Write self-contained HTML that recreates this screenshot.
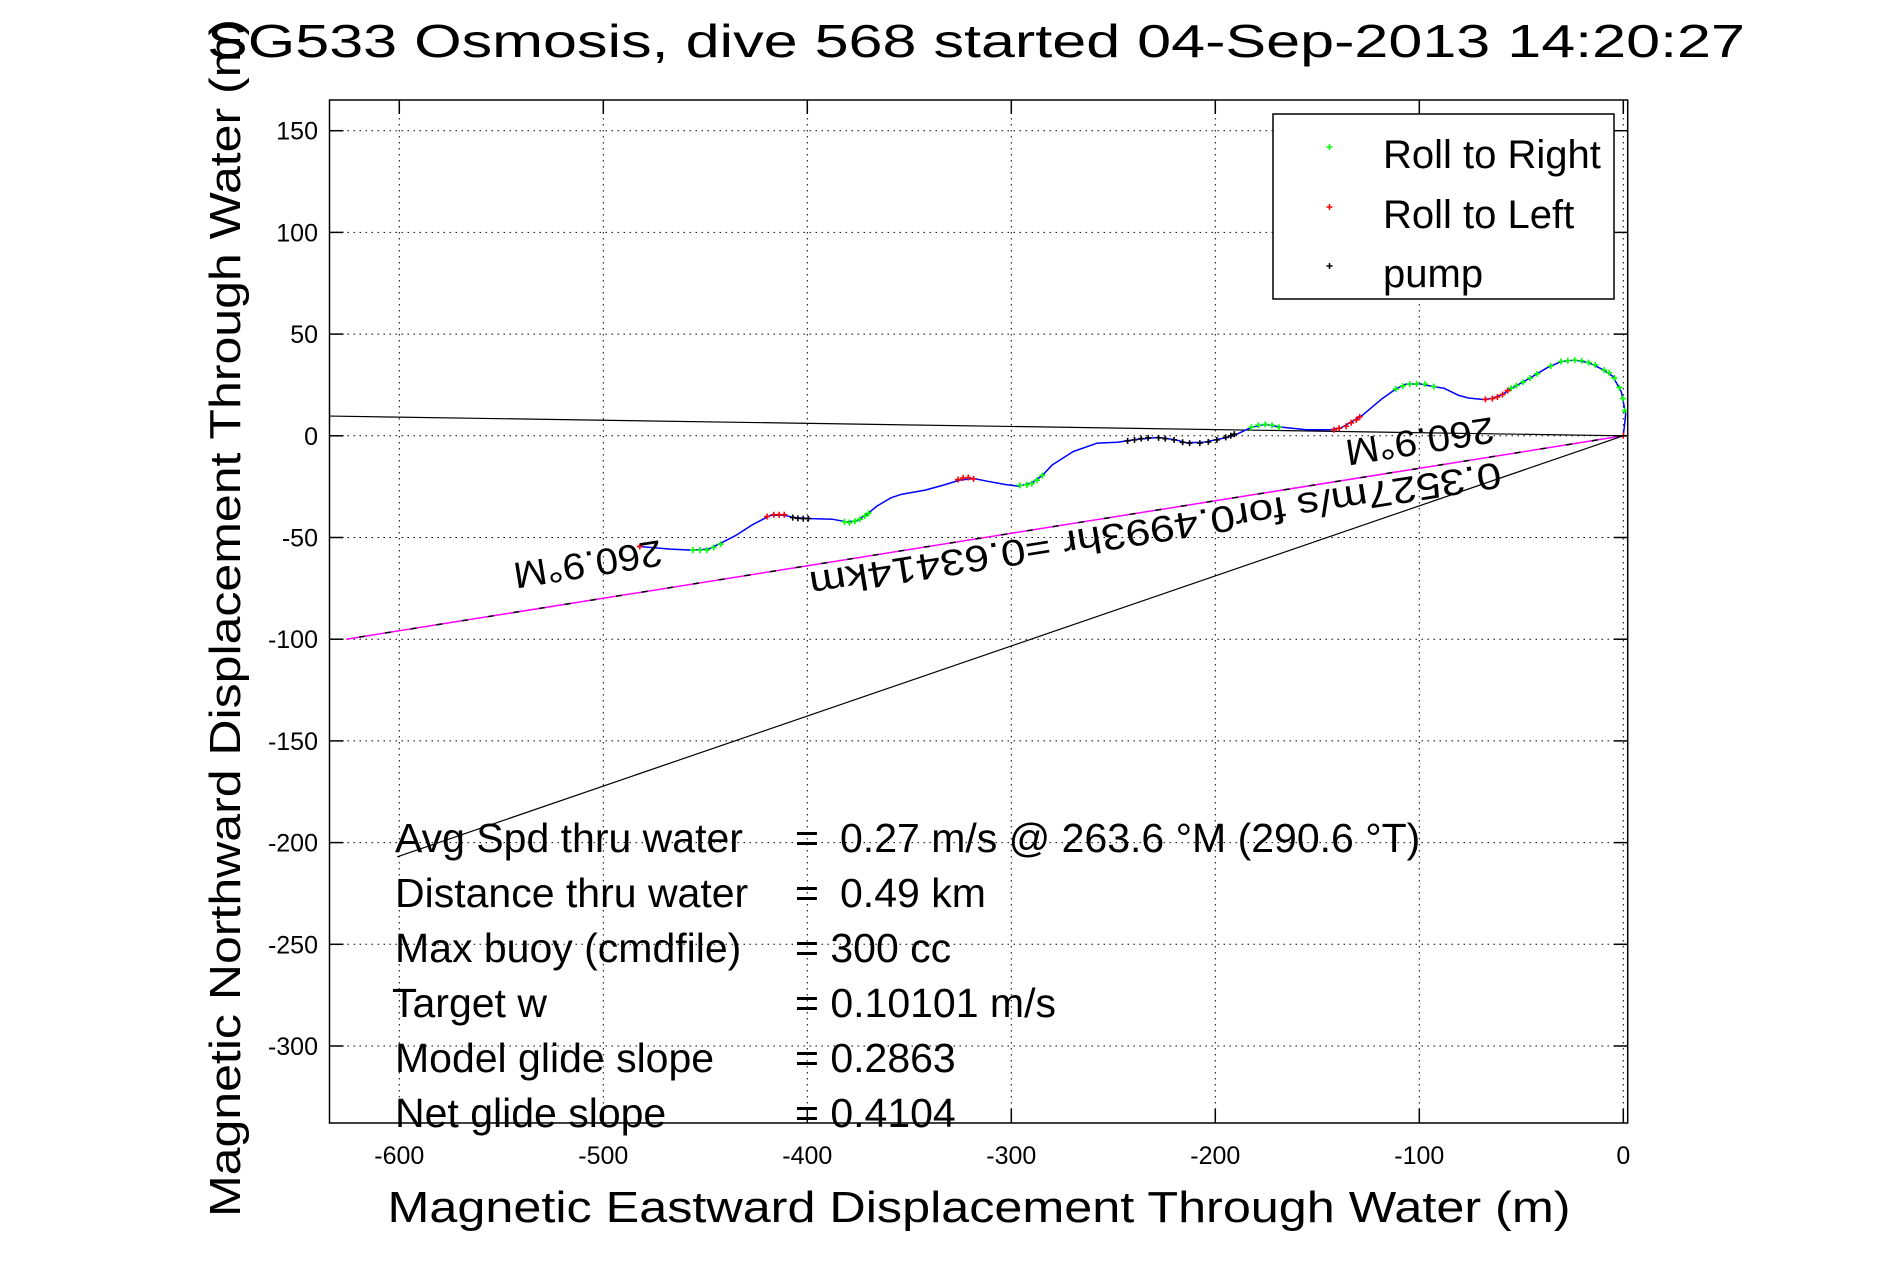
<!DOCTYPE html>
<html><head><meta charset="utf-8"><style>
html,body{margin:0;padding:0;background:#fff;}
svg{display:block;font-family:"Liberation Sans",Arial,sans-serif;}
</style></head><body>
<svg id="chart" width="1891" height="1262" viewBox="0 0 1891 1262" xmlns="http://www.w3.org/2000/svg">
<rect x="0" y="0" width="1891" height="1262" fill="#fff"/>
<g id="grid"></g>
<g id="lines"></g>
<g id="track"></g>
<g id="axes"></g>
<text x="207" y="57" font-size="46" textLength="1538" lengthAdjust="spacingAndGlyphs">SG533 Osmosis, dive 568 started 04-Sep-2013 14:20:27</text>
<text transform="translate(240,618) rotate(-90)" text-anchor="middle" font-size="44" textLength="1198" lengthAdjust="spacingAndGlyphs">Magnetic Northward Displacement Through Water (m)</text>
<text x="979" y="1222" text-anchor="middle" font-size="44" textLength="1183" lengthAdjust="spacingAndGlyphs">Magnetic Eastward Displacement Through Water (m)</text>
<text transform="translate(1499,462) rotate(170.9)" font-size="37" textLength="700" lengthAdjust="spacingAndGlyphs">0.3527m/s for0.4993hr =0.63414km</text>
<text transform="translate(1492,417) rotate(171)" font-size="37" textLength="150" lengthAdjust="spacingAndGlyphs">260.9°M</text>
<text transform="translate(660,540) rotate(171)" font-size="37" textLength="150" lengthAdjust="spacingAndGlyphs">260.9°M</text>
<g font-size="41">
<text x="395" y="852">Avg Spd thru water</text>
<text x="795" y="852">=</text>
<text x="840" y="852">0.27 m/s @ 263.6 °M (290.6 °T)</text>
<text x="395" y="907">Distance thru water</text>
<text x="795" y="907">=</text>
<text x="840" y="907">0.49 km</text>
<text x="395" y="962">Max buoy (cmdfile)</text>
<text x="795" y="962">= 300 cc</text>
<text x="392" y="1017">Target w</text>
<text x="795" y="1017">= 0.10101 m/s</text>
<text x="395" y="1072">Model glide slope</text>
<text x="795" y="1072">= 0.2863</text>
<text x="395" y="1127">Net glide slope</text>
<text x="795" y="1127">= 0.4104</text>
</g>
<g>
<rect x="1273" y="114" width="341" height="185" fill="#fff" stroke="#000" stroke-width="1.5"/>
<g><path d="M1326.5,147h6M1329.5,144v6" stroke="#00ff00" stroke-width="1.5"/><text x="1383" y="168" font-size="40">Roll to Right</text></g>
<g><path d="M1326.5,207h6M1329.5,204v6" stroke="#ff0000" stroke-width="1.5"/><text x="1383" y="228" font-size="40">Roll to Left</text></g>
<g><path d="M1326.5,266h6M1329.5,263v6" stroke="#000" stroke-width="1.5"/><text x="1383" y="287" font-size="40">pump</text></g>
</g>
</svg>
<script>
const xTicks=[-600,-500,-400,-300,-200,-100,0];
const yTicks=[150,100,50,0,-50,-100,-150,-200,-250,-300];
const trackX=[0,1.2,-1,-5.2,-10.3,-17,-23.8,-30.5,-37.3,-45.7,-54.1,-59.2,-64.2,-69.3,-76,-81.1,-87.9,-92.9,-99.7,-106.4,-111.5,-118.2,-128.3,-133.4,-138.4,-143.5,-155.3,-167.1,-175.5,-182.3,-189,-194.1,-200,-205.9,-214.3,-219.4,-227.8,-238,-248,-257.8,-269.6,-279.8,-284.8,-289.9,-296.6,-303.4,-311.8,-318.5,-325.3,-333.7,-342.2,-354,-359,-365.8,-370.8,-375.9,-380.9,-387.7,-397.8,-406.2,-411.3,-418,-426.5,-434.9,-441.7,-448.4,-456.8,-467,-483];
const trackY=[0,10.7,21.7,29.3,32.7,36,37.2,36.5,33.5,28.4,23.7,20.3,18.3,17.9,18.6,20,23.4,24.2,25.5,25.4,23,18.3,9.8,6.8,3.9,3,3,4.2,5.6,4.2,1,-0.8,-2,-3.2,-3.4,-2,-0.8,-1.7,-3.2,-3.6,-7.7,-14.2,-19.5,-23.1,-24.8,-23.9,-22.3,-21,-21.8,-24.4,-26.7,-28.8,-30.5,-34.5,-38.6,-41.9,-42.3,-41,-40.7,-40.2,-39.1,-39.1,-43.5,-48.9,-52.4,-55.7,-56.2,-55.7,-54.4];
const greenX=[0.7,-0.2,-1.9,-4.4,-6.9,-9.4,-13.7,-17,-20.4,-23.8,-27.2,-30.5,-35.6,-42.3,-45.7,-49.1,-52.4,-55,-111.5,-108.1,-104.7,-101.3,-97.1,-92.9,-182.3,-178.9,-175.5,-172.2,-168.8,-295.8,-292.4,-289.9,-287.4,-284.8,-381.8,-379.3,-376.7,-374.2,-371.7,-370,-456,-452.6,-449.2,-445.9,-442.5];
const greenY=[12.4,18.3,23.7,28.4,31,32.3,34.9,36,36.9,37.2,36.9,36.5,34.3,30.5,28.4,26.4,24.7,23.4,23,24.5,25.4,25.5,25.4,24.2,4.2,5.2,5.6,5.2,4.2,-24.4,-24.1,-23.5,-21.8,-19.5,-42.3,-42.7,-42,-41,-39.4,-38.1,-56.2,-56.2,-56.2,-54.9,-53.3];
const redX=[0,-67.6,-64.2,-61.7,-59.2,-56.7,-141.8,-139.3,-135.9,-133.4,-130.9,-129.2,-326.1,-323.6,-321.1,-318.5,-419.7,-416.4,-413.8,-411.3,-482.1];
const redY=[0,17.9,18.3,19.1,20.3,22.2,3,3.7,4.7,6.4,7.8,9.3,-21.5,-20.7,-20.5,-21.2,-39.7,-38.8,-38.8,-38.8,-54.4];
const pumpX=[-243,-239.6,-236.3,-232.9,-227.8,-224.5,-220.2,-216,-212.6,-207.6,-203.4,-199.2,-194.9,-192.4,-190.7,-407.1,-404.6,-402,-399.5];
const pumpY=[-2.5,-2,-1.4,-1,-1,-1.4,-2,-3.2,-3.6,-3.6,-3,-2,-0.8,0,0.8,-40.2,-40.6,-40.7,-40.7];
const refLineEndX=[-634,-601];
const refLineEndY=[9.7,-207];
const avgLineEndX=[-626];
const avgLineEndY=[-100];

const NS='http://www.w3.org/2000/svg';
const L=329.5,R=1627.7,T=100,B=1123;
function xS(v){return 1623.3+v*2.04;}
function yS(v){return 435.8-v*2.034;}
function mk(tag,attrs,parent){const e=document.createElementNS(NS,tag);for(const k in attrs)e.setAttribute(k,attrs[k]);parent.appendChild(e);return e;}
const grid=document.getElementById('grid'),axes=document.getElementById('axes'),lines=document.getElementById('lines'),track=document.getElementById('track');

xTicks.forEach(v=>{const x=xS(v);
 const g=mk('line',{x1:x,x2:x,y1:T,y2:B,stroke:'#000','stroke-width':1,'stroke-dasharray':'1.5 4.5'},grid);
 
 
 const t1=mk('line',{x1:x,x2:x,y1:B,y2:B-14,stroke:'#000','stroke-width':1.5},axes);
 
 
 const t2=mk('line',{x1:x,x2:x,y1:T,y2:T+14,stroke:'#000','stroke-width':1.5},axes);
 
 
 const lb=mk('text',{x:x,y:1164,'text-anchor':'middle','font-size':25},axes);lb.textContent=String(v);
 
 
});
yTicks.forEach(v=>{const y=yS(v);
 const g=mk('line',{x1:L,x2:R,y1:y,y2:y,stroke:'#000','stroke-width':1,'stroke-dasharray':'1.5 4.5'},grid);
 
 
 const t1=mk('line',{x1:L,x2:L+14,y1:y,y2:y,stroke:'#000','stroke-width':1.5},axes);
 
 
 const t2=mk('line',{x1:R,x2:R-14,y1:y,y2:y,stroke:'#000','stroke-width':1.5},axes);
 
 
 const lb=mk('text',{x:318,y:y+9,'text-anchor':'end','font-size':25},axes);lb.textContent=String(v);
 
 
});
const frame=mk('rect',{x:L,y:T,width:R-L,height:B-T,fill:'none',stroke:'#000','stroke-width':1.5},axes);



refLineEndX.forEach((v,i)=>{
 const ln=mk('line',{x1:xS(0),y1:yS(0),x2:xS(v),y2:yS(refLineEndY[i]),stroke:'#000','stroke-width':1.2},lines);
 
 
});
avgLineEndX.forEach((v,i)=>{
 const ln=mk('line',{x1:xS(0),y1:yS(0),x2:xS(v),y2:yS(avgLineEndY[i]),stroke:'#ff00ff','stroke-width':1.5},lines);
 
 
 const ln2=mk('line',{x1:xS(0),y1:yS(0),x2:xS(v),y2:yS(avgLineEndY[i]),stroke:'#000','stroke-width':1.5,'stroke-dasharray':'6 20'},lines);
 
 
});

const pts=trackX.map((v,i)=>xS(v).toFixed(1)+','+yS(trackY[i]).toFixed(1)).join(' ');
const pl=mk('polyline',{points:pts,fill:'none',stroke:'#0000ff','stroke-width':1.5,'stroke-linejoin':'round'},track);



function markers(xs,ys,color,name){
 xs.forEach((v,i)=>{const x=xS(v),y=yS(ys[i]);
  const p=mk('path',{d:`M${x-3},${y}h6M${x},${y-3}v6`,stroke:color,'stroke-width':1.6},track);
  
  
 });
}
markers(greenX,greenY,'#00ff00','roll-right-marker');
markers(redX,redY,'#ff0000','roll-left-marker');
markers(pumpX,pumpY,'#000000','pump-marker');
</script>
</body></html>
